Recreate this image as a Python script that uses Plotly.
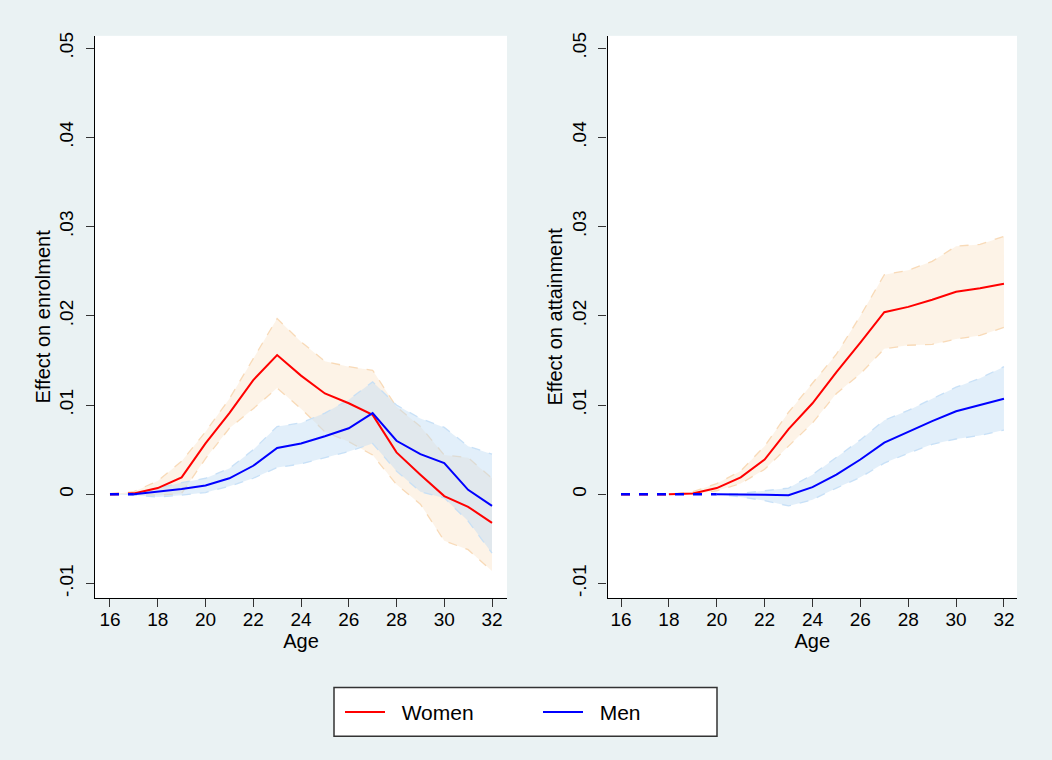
import plotly.graph_objects as go

# ---------------- data ----------------
ages = [16, 17, 18, 19, 20, 21, 22, 23, 24, 25, 26, 27, 28, 29, 30, 31, 32]

# Panel 1: effect on enrolment
women_enrol    = [0, 0.0001, 0.0007, 0.0019, 0.0057, 0.0091, 0.0128, 0.0156, 0.0133, 0.0113, 0.0102, 0.0089, 0.0047, 0.0022, -0.0002, -0.0014, -0.0032]
women_enrol_hi = [0, 0.0003, 0.0015, 0.0037, 0.0070, 0.0107, 0.0152, 0.0197, 0.0171, 0.0149, 0.0143, 0.0139, 0.0098, 0.0076, 0.0044, 0.0041, 0.0018]
women_enrol_lo = [0, 0.0000, -0.0001, 0.0001, 0.0040, 0.0074, 0.0096, 0.0119, 0.0096, 0.0070, 0.0059, 0.0044, 0.0011, -0.0011, -0.0052, -0.0062, -0.0086]
men_enrol      = [0, 0.0000, 0.0003, 0.0006, 0.0010, 0.0018, 0.0032, 0.0052, 0.0057, 0.0065, 0.0074, 0.0091, 0.0060, 0.0045, 0.0035, 0.0005, -0.0013]
men_enrol_hi   = [0, 0.0001, 0.0007, 0.0013, 0.0018, 0.0029, 0.0050, 0.0076, 0.0080, 0.0091, 0.0106, 0.0126, 0.0100, 0.0085, 0.0075, 0.0054, 0.0045]
men_enrol_lo   = [0, -0.0001, -0.0003, -0.0001, 0.0002, 0.0009, 0.0018, 0.0030, 0.0034, 0.0041, 0.0048, 0.0057, 0.0026, 0.0003, -0.0004, -0.0030, -0.0066]

# Panel 2: effect on attainment
women_attain    = [0, 0, 0, 0.0001, 0.0007, 0.0019, 0.0039, 0.0073, 0.0102, 0.0137, 0.0170, 0.0204, 0.0210, 0.0218, 0.0227, 0.0231, 0.0236]
women_attain_hi = [0, 0, 0, 0.0003, 0.0012, 0.0026, 0.0054, 0.0092, 0.0124, 0.0157, 0.0200, 0.0246, 0.0251, 0.0261, 0.0278, 0.0280, 0.0289]
women_attain_lo = [0, 0, 0, 0.0000, 0.0004, 0.0012, 0.0028, 0.0054, 0.0080, 0.0113, 0.0135, 0.0163, 0.0167, 0.0168, 0.0174, 0.0178, 0.0187]
men_attain      = [0, 0, 0, 0, 0, 0.0000, -0.00005, -0.0001, 0.0008, 0.0022, 0.0039, 0.0058, 0.0070, 0.0082, 0.0093, 0.0100, 0.0107]
men_attain_hi   = [0, 0, 0, 0, 0, 0.0001, 0.0004, 0.0007, 0.0022, 0.0041, 0.0061, 0.0083, 0.0094, 0.0107, 0.0120, 0.0130, 0.0143]
men_attain_lo   = [0, 0, 0, 0, 0, -0.0003, -0.0007, -0.0013, -0.0006, 0.0007, 0.0019, 0.0035, 0.0046, 0.0056, 0.0062, 0.0066, 0.0072]

# last age of the dashed (pre-period) segment of each line
pre_end_enrol  = {"Women": 17, "Men": 17}
pre_end_attain = {"Women": 18, "Men": 20}

x_ticks = [16, 18, 20, 22, 24, 26, 28, 30, 32]
y_ticks = [-0.01, 0, 0.01, 0.02, 0.03, 0.04, 0.05]
y_ticktext = ["-.01", "0", ".01", ".02", ".03", ".04", ".05"]
y_titles = ["Effect on enrolment", "Effect on attainment"]
x_title = "Age"

# ---------------- styling ----------------
BG = "#EAF2F3"
RED = "#FF0000"
BLUE = "#0000FF"
RED_FILL = "rgba(250,225,195,0.40)"
RED_EDGE = "rgba(247,214,176,0.9)"
BLUE_FILL = "rgba(190,220,245,0.45)"
BLUE_EDGE = "rgba(195,222,246,0.9)"
FONT = "Liberation Sans, Arial, sans-serif"

W, H = 1052, 760
fig = go.Figure()


def add_panel(xa, ya, series, pre_end, show_legend):
    for name, est, lo, hi, fill, edge in series:
        fig.add_trace(go.Scatter(x=ages, y=lo, mode="lines", xaxis=xa, yaxis=ya,
                                 line=dict(color=edge, width=1.3, dash="dash"),
                                 showlegend=False, hoverinfo="skip"))
        fig.add_trace(go.Scatter(x=ages, y=hi, mode="lines", xaxis=xa, yaxis=ya,
                                 line=dict(color=edge, width=1.3, dash="dash"),
                                 fill="tonexty", fillcolor=fill,
                                 showlegend=False, hoverinfo="skip"))
    for name, est, lo, hi, fill, edge in series:
        color = RED if name == "Women" else BLUE
        k = ages.index(pre_end[name])
        fig.add_trace(go.Scatter(x=ages[k:], y=est[k:], mode="lines", xaxis=xa, yaxis=ya,
                                 line=dict(color=color, width=2),
                                 name="\u00a0\u00a0" + name, legendgroup=name,
                                 showlegend=show_legend))
    for name, est, lo, hi, fill, edge in series:
        color = RED if name == "Women" else BLUE
        k = ages.index(pre_end[name])
        fig.add_trace(go.Scatter(x=ages[:k + 1], y=est[:k + 1], mode="lines", xaxis=xa, yaxis=ya,
                                 line=dict(color=color, width=2.5, dash="dash"),
                                 showlegend=False, hoverinfo="skip"))


add_panel("x", "y",
          [("Women", women_enrol, women_enrol_lo, women_enrol_hi, RED_FILL, RED_EDGE),
           ("Men", men_enrol, men_enrol_lo, men_enrol_hi, BLUE_FILL, BLUE_EDGE)],
          pre_end_enrol, True)
add_panel("x2", "y2",
          [("Women", women_attain, women_attain_lo, women_attain_hi, RED_FILL, RED_EDGE),
           ("Men", men_attain, men_attain_lo, men_attain_hi, BLUE_FILL, BLUE_EDGE)],
          pre_end_attain, False)

# pixel geometry
top_px, bot_px = 32, 597
ydom = [1 - bot_px / H, 1 - top_px / H]
xr1 = [15.372, 32.628]
xr2 = [15.435, 32.545]
yr = [-0.0116, 0.05137]

axis_common = dict(showline=True, linecolor="black", linewidth=1.3, mirror=False,
                   ticks="outside", ticklen=8, tickwidth=1.2, tickcolor="#333333",
                   showgrid=False, zeroline=False,
                   tickfont=dict(size=19, color="black", family=FONT))

TF = dict(size=20, color="black", family=FONT)
xa = dict(axis_common, tickvals=x_ticks, fixedrange=True, ticklabelstandoff=-4,
          title=dict(text=x_title, font=TF, standoff=2))
ya = dict(axis_common, range=yr, tickvals=y_ticks, ticktext=y_ticktext, tickangle=-90,
          ticklabelstandoff=5, fixedrange=True)

fig.update_layout(
    width=W, height=H,
    paper_bgcolor=BG, plot_bgcolor="white",
    margin=dict(l=0, r=0, t=0, b=0),
    font=dict(family=FONT, color="black"),
    xaxis=dict(xa, range=xr1, domain=[95 / W, 507 / W], anchor="y"),
    yaxis=dict(ya, domain=ydom, anchor="x", title=dict(text=y_titles[0], font=TF, standoff=0)),
    xaxis2=dict(xa, range=xr2, domain=[607.5 / W, 1017 / W], anchor="y2"),
    yaxis2=dict(ya, domain=ydom, anchor="x2", title=dict(text=y_titles[1], font=TF, standoff=0)),
    legend=dict(orientation="h", x=340 / W, xanchor="left", y=1 - 712 / H, yanchor="middle",
                bgcolor="rgba(0,0,0,0)", borderwidth=0,
                font=dict(size=21, color="black", family=FONT),
                entrywidth=143, entrywidthmode="pixels", itemwidth=40,
                traceorder="normal"),
    shapes=[dict(type="rect", xref="paper", yref="paper",
                 x0=334 / W, x1=717 / W, y0=1 - 736 / H, y1=1 - 687 / H,
                 fillcolor="white", line=dict(color="#333333", width=1.5), layer="below")],
    showlegend=True,
)

fig.write_html("out.html", config={"displayModeBar": False},
               post_script="document.body.style.margin='0';document.body.style.overflow='hidden';")
